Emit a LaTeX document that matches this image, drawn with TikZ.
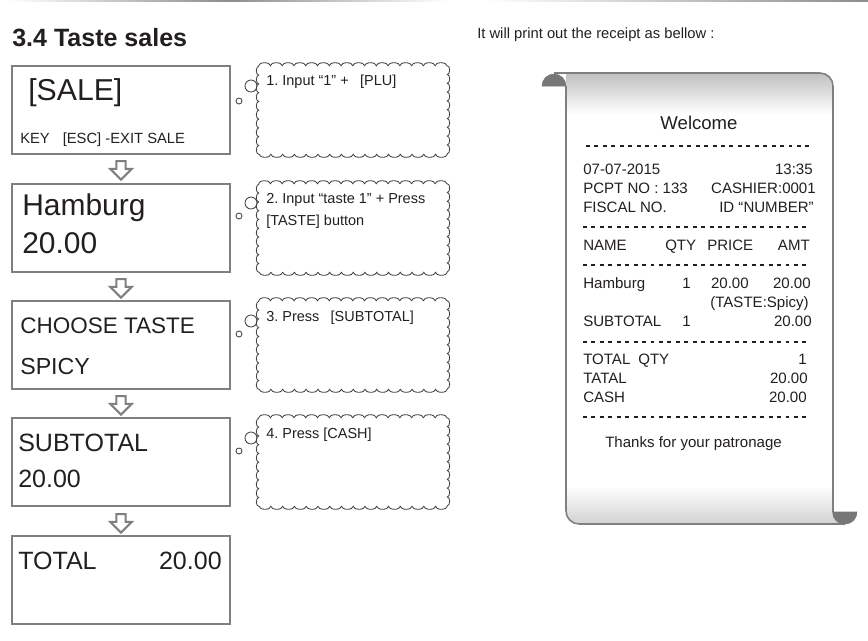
\documentclass[tikz,border=0pt]{standalone}
\usepackage{fontspec}
\setmainfont{Liberation Sans}
\frenchspacing
\usetikzlibrary{shapes.arrows,decorations.pathmorphing}
\definecolor{lcdgray}{HTML}{7F7F7F}
\definecolor{ink}{HTML}{231F20}
\definecolor{curlgray}{HTML}{777777}
\tikzset{
  lcd/.style={draw=lcdgray, line width=1.9pt, minimum width=5.45cm, minimum height=2.2cm, inner sep=0pt},
  downarr/.style={single arrow, draw=lcdgray, line width=1.5pt, rotate=-90, minimum height=0.46cm,
    minimum width=0.52cm, single arrow head extend=0.15cm, inner sep=0.09cm},
  thought/.style={minimum width=4.7cm, minimum height=2.2cm, inner sep=0pt},
  wavy/.style={draw=ink!85, line width=0.6pt, decorate,
    decoration={bumps, segment length=0.588cm, amplitude=0.075cm}},
  wavyside/.style={draw=ink!85, line width=0.6pt, decorate,
    decoration={bumps, segment length=0.44cm, amplitude=0.06cm}},
  bubble/.style={circle, draw=ink!85, line width=0.6pt, inner sep=0pt},
  big/.style={anchor=base west, inner sep=0pt, text=ink, font=\fontsize{21.3}{24}\selectfont},
  mid/.style={anchor=base west, inner sep=0pt, text=ink, font=\fontsize{17.8}{20}\selectfont},
  note/.style={anchor=base west, inner sep=0pt, text=ink, font=\fontsize{10.3}{12}\selectfont},
  rc/.style={inner sep=0pt, text=ink, font=\fontsize{10.7}{12}\selectfont},
  rule/.style={ink, line width=0.9pt, dash pattern=on 2.8pt off 3.2pt}
}
\begin{document}
\begin{tikzpicture}[x=0.025cm, y=-0.025cm]
    \useasboundingbox (0,0) rectangle (868,640);
    \shade[left color=white, right color=white, middle color=black!45] (8,0) rectangle (448,1.6);
    \shade[left color=white, right color=black!45] (484,0) rectangle (868,1.6);

    \node[anchor=base west, inner sep=0pt, text=ink, font=\bfseries\fontsize{17.8}{20}\selectfont] (ttl) at (12,46) {3.4 Taste sales};
    \node[note, font=\fontsize{10.5}{12}\selectfont] (hint) at (477,38) {It will print out the receipt as bellow :};

    % keyboard display steps
    \node[lcd] (s1) at (121,110) {};
    \node[lcd] (s2) at (121,228) {};
    \node[lcd] (s3) at (121,345) {};
    \node[lcd] (s4) at (121,462) {};
    \node[lcd] (s5) at (121,580) {};

    \node[big, font=\fontsize{21.5}{24}\selectfont] (k1a) at (28,100) {[SALE]};
    \node[note, font=\fontsize{10.5}{12}\selectfont] (k1b) at (20,143) {KEY\hspace{0.6em} [ESC] -EXIT SALE};
    \node[big] (k2a) at (22,215) {Hamburg};
    \node[big] (k2b) at (22,253) {20.00};
    \node[mid, font=\fontsize{16}{18}\selectfont] (k3a) at (20,333) {CHOOSE TASTE};
    \node[mid, font=\fontsize{16.5}{18}\selectfont] (k3b) at (20,374) {SPICY};
    \node[mid] (k4a) at (18,451) {SUBTOTAL};
    \node[mid] (k4b) at (18,487) {20.00};
    \node[mid] (k5a) at (18,569) {TOTAL};
    \node[mid, anchor=base east] (k5b) at (222,569) {20.00};

    \node[downarr] (a1) at (121,168) {};
    \node[downarr] (a2) at (121,286) {};
    \node[downarr] (a3) at (121,403) {};
    \node[downarr] (a4) at (121,521) {};

    % thought clouds
    \node[thought] (c1) at (353,110) {};
    \node[thought] (c2) at (353,228) {};
    \node[thought] (c3) at (353,345) {};
    \node[thought] (c4) at (353,462) {};
    \foreach \c in {c1,c2,c3,c4} {
      \draw[wavy] (\c.north west) -- (\c.north east);
      \draw[wavyside] (\c.north east) -- (\c.south east);
      \draw[wavy] (\c.south east) -- (\c.south west);
      \draw[wavyside] (\c.south west) -- (\c.north west);
    }
    \node[bubble, minimum size=0.3cm] (o1) at (251,86) {};
    \node[bubble, minimum size=0.15cm] (p1) at (239,101) {};
    \node[bubble, minimum size=0.3cm] (o2) at (251,203) {};
    \node[bubble, minimum size=0.15cm] (p2) at (239,216) {};
    \node[bubble, minimum size=0.3cm] (o3) at (251,321) {};
    \node[bubble, minimum size=0.15cm] (p3) at (239,334) {};
    \node[bubble, minimum size=0.3cm] (o4) at (251,438) {};
    \node[bubble, minimum size=0.15cm] (p4) at (239,451) {};

    \node[note] (n1) at (266,85) {1. Input “1” +\hspace{0.5em} [PLU]};
    \node[note] (n2) at (266,203) {2. Input “taste 1” + Press};
    \node[note] (n2b) at (266,225) {[TASTE] button};
    \node[note] (n3) at (266,321) {3. Press\hspace{0.5em} [SUBTOTAL]};
    \node[note] (n4) at (266,438) {4. Press [CASH]};

    % receipt paper
    \def\paper{(554,73) -- (820,73) arc (270:360:13) -- (833,512) arc (180:90:12)
      -- (579,524) arc (90:180:13) -- (566,86)}
    \fill[white] \paper -- (566,73) -- cycle;
    \begin{scope}
      \clip \paper -- (566,73) -- cycle;
      \shade[top color=black!25, bottom color=white] (540,73) rectangle (860,114);
      \shade[top color=white, bottom color=black!18] (540,486) rectangle (860,525);
    \end{scope}
    \draw[lcdgray, line width=1.1pt] \paper;
    \filldraw[fill=curlgray, draw=curlgray] (542,86) arc (180:360:12) -- cycle;
    \filldraw[fill=curlgray, draw=curlgray] (833,512) arc (180:0:12) -- cycle;

    \node[rc, anchor=base, font=\fontsize{13.2}{15}\selectfont] (welc) at (699,129) {Welcome};
    \draw[rule] (586,146) -- (813,146);
    \node[rc, anchor=base west] (date) at (583,174) {07-07-2015};
    \node[rc, anchor=base east] (time) at (813,174) {13:35};
    \node[rc, anchor=base west] (pcpt) at (583,193) {PCPT NO : 133};
    \node[rc, anchor=base east] (cshr) at (816,193) {CASHIER:0001};
    \node[rc, anchor=base west] (fisc) at (583,212) {FISCAL NO.};
    \node[rc, anchor=base east] (idno) at (814,212) {ID “NUMBER”};
    \draw[rule] (583,227) -- (810,227);
    \node[rc, anchor=base west] (hname) at (583,250) {NAME};
    \node[rc, anchor=base west] (hqty) at (665,250) {QTY};
    \node[rc, anchor=base west] (hprice) at (707,250) {PRICE};
    \node[rc, anchor=base east] (hamt) at (810,250) {AMT};
    \draw[rule] (583,265) -- (810,265);
    \node[rc, anchor=base west] (iname) at (583,288) {Hamburg};
    \node[rc, anchor=base east] (iqty) at (691,288) {1};
    \node[rc, anchor=base east] (iprice) at (749,288) {20.00};
    \node[rc, anchor=base east] (iamt) at (811,288) {20.00};
    \node[rc, anchor=base east] (itaste) at (809,307) {(TASTE:Spicy)};
    \node[rc, anchor=base west] (sname) at (583,326) {SUBTOTAL};
    \node[rc, anchor=base east] (sqty) at (691,326) {1};
    \node[rc, anchor=base east] (samt) at (812,326) {20.00};
    \draw[rule] (583,342) -- (810,342);
    \node[rc, anchor=base west] (tqty) at (583,364) {TOTAL\hspace{0.25em} QTY};
    \node[rc, anchor=base east] (tqtyv) at (807,364) {1};
    \node[rc, anchor=base west] (ttal) at (583,383) {TATAL};
    \node[rc, anchor=base east] (ttalv) at (808,383) {20.00};
    \node[rc, anchor=base west] (tcash) at (583,402) {CASH};
    \node[rc, anchor=base east] (tcashv) at (807,402) {20.00};
    \draw[rule] (583,417) -- (810,417);
    \node[rc, anchor=base west] (thx) at (605,447) {Thanks for your patronage};
\end{tikzpicture}
\end{document}
